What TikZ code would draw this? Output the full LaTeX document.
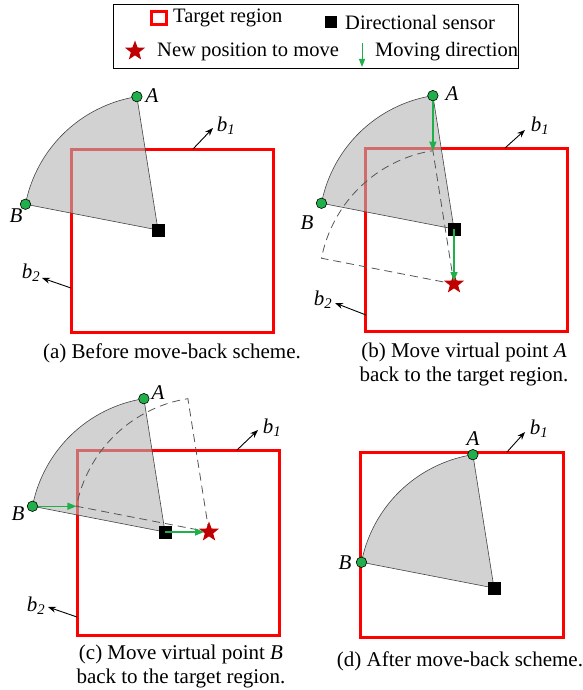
\documentclass[tikz,border=0pt]{standalone}
\usepackage{fontspec}
\setmainfont{Liberation Serif}
\usetikzlibrary{arrows.meta, shapes.geometric}
\definecolor{myred}{HTML}{FF0000}
\definecolor{mygreen}{HTML}{1FAF4B}
\definecolor{mystar}{HTML}{C00000}
\definecolor{mygray}{HTML}{B4B4B4}
\definecolor{myline}{HTML}{444444}
\definecolor{mydash}{HTML}{555555}
\tikzset{
target/.style={
draw=myred,
line width=3pt
},
sector/.style={
draw=myline,
line width=0.6pt,
fill=mygray,
fill opacity=0.6
},
ghost/.style={
draw=mydash,
line width=0.8pt,
dash pattern=on 8pt off 5pt
},
sensor/.style={
fill=black,
minimum size=13pt,
inner sep=0pt
},
vpoint/.style={
circle,
draw=black,
line width=0.6pt,
fill=mygreen,
minimum size=10.5pt,
inner sep=0pt
},
newpos/.style={
star,
star points=5,
star point ratio=2.4,
fill=mystar,
minimum size=21pt,
inner sep=0pt
},
move/.style={
-{Triangle[length=9pt,width=7pt]},
line width=1.4pt,
draw=mygreen
},
bdir/.style={
-{Stealth[length=8pt,width=6pt]},
line width=0.9pt
},
lbl/.style={
font=\fontsize{21}{24}\selectfont\itshape,
inner sep=0pt
},
caption/.style={
font=\fontsize{21}{24}\selectfont,
align=center,
inner sep=0pt
},
legtext/.style={
font=\fontsize{20.5}{24}\selectfont,
anchor=west,
inner sep=0pt
}
}

\begin{document}
\begin{tikzpicture}[x=1pt,y=-1pt]
\useasboundingbox (0,0) rectangle (582,690);

% legend
\draw[line width=0.8pt] (113,4) rectangle (518,68);
\node[draw=myred, line width=2.5pt, minimum width=15pt, minimum height=13pt, inner sep=0pt] (legT) at (159,18) {};
\node[legtext] (legTt) at (173,18) {Target region};
\node[sensor, minimum size=12pt] (legS) at (331,22) {};
\node[legtext] (legSt) at (345,22) {Directional sensor};
\node[newpos] (legN) at (135,51) {};
\node[legtext] (legNt) at (157,52) {New position to move};
\coordinate (legM1) at (362,43);
\coordinate (legM2) at (362,67);
\draw[move, line width=1pt, -{Triangle[length=8pt,width=6pt]}] (legM1) -- (legM2);
\node[legtext] (legMt) at (375,52) {Moving direction};

% (a)
\draw[target] (71,149) rectangle (273,332);
\coordinate (aS) at (158,230);
\path (aS) ++(-99:135) coordinate (aA);
\path (aS) ++(-169:135) coordinate (aB);
\draw[sector] (aS) -- (aA) arc[start angle=-99, end angle=-169, radius=135] -- cycle;
\node[sensor] (aSen) at (aS) {};
\node[vpoint] (aPA) at (aA) {};
\node[vpoint] (aPB) at (aB) {};
\node[lbl] (aLA) at (152,96) {A};
\node[lbl] (aLB) at (16,216) {B};
\coordinate (ab1s) at (193,149);
\coordinate (ab1e) at (213,128);
\draw[bdir] (ab1s) -- (ab1e);
\node[lbl] (ab1) at (226,126) {b\textsubscript{1}};
\coordinate (ab2s) at (71,288);
\coordinate (ab2e) at (42,278);
\draw[bdir] (ab2s) -- (ab2e);
\node[lbl] (ab2) at (31,273) {b\textsubscript{2}};
\node[caption] (capa) at (172,353) {(a) Before move-back scheme.};

% (b)
\draw[target] (365,148) rectangle (567,331);
\coordinate (bS) at (454,229);
\path (bS) ++(-99:135) coordinate (bA);
\path (bS) ++(-169:135) coordinate (bB);
\draw[sector] (bS) -- (bA) arc[start angle=-99, end angle=-169, radius=135] -- cycle;
\coordinate (bS2) at (454,284);
\path (bS2) ++(-99:135) coordinate (bA2);
\path (bS2) ++(-169:135) coordinate (bB2);
\draw[ghost] (bS2) -- (bA2) arc[start angle=-99, end angle=-169, radius=135] -- cycle;
\node[sensor] (bSen) at (bS) {};
\node[newpos] (bNew) at (bS2) {};
\node[vpoint] (bPA) at (bA) {};
\node[vpoint] (bPB) at (bB) {};
\draw[move] (bPA) -- (bA2);
\draw[move, shorten >=3pt] (bSen.center) -- (bNew.center);
\node[lbl] (bLA) at (452,94) {A};
\node[lbl] (bLB) at (307,223) {B};
\coordinate (bb1s) at (505,148);
\coordinate (bb1e) at (525,130);
\draw[bdir] (bb1s) -- (bb1e);
\node[lbl] (bb1) at (540,126) {b\textsubscript{1}};
\coordinate (bb2s) at (366,315);
\coordinate (bb2e) at (335,303);
\draw[bdir] (bb2s) -- (bb2e);
\node[lbl] (bb2) at (323,300) {b\textsubscript{2}};
\node[caption] (capb) at (464,364) {(b) Move virtual point \textit{A}\\back to the target region.};

% (c)
\draw[target] (77,450) rectangle (279,635);
\coordinate (cS) at (165,532);
\path (cS) ++(-99:135) coordinate (cA);
\path (cS) ++(-169:135) coordinate (cB);
\draw[sector] (cS) -- (cA) arc[start angle=-99, end angle=-169, radius=135] -- cycle;
\coordinate (cS2) at (209,532);
\path (cS2) ++(-99:135) coordinate (cA2);
\path (cS2) ++(-169:135) coordinate (cB2);
\draw[ghost] (cS2) -- (cA2) arc[start angle=-99, end angle=-169, radius=135] -- cycle;
\node[sensor] (cSen) at (cS) {};
\node[newpos] (cNew) at (cS2) {};
\node[vpoint] (cPA) at (cA) {};
\node[vpoint] (cPB) at (cB) {};
\draw[move] (cPB) -- (cB2);
\draw[move, shorten >=5pt] (cSen.center) -- (cNew.center);
\node[lbl] (cLA) at (158,393) {A};
\node[lbl] (cLB) at (18,514) {B};
\coordinate (cb1s) at (237,450);
\coordinate (cb1e) at (258,430);
\draw[bdir] (cb1s) -- (cb1e);
\node[lbl] (cb1) at (272,428) {b\textsubscript{1}};
\coordinate (cb2s) at (77,617);
\coordinate (cb2e) at (48,607);
\draw[bdir] (cb2s) -- (cb2e);
\node[lbl] (cb2) at (36,606) {b\textsubscript{2}};
\node[caption] (capc) at (181,666) {(c) Move virtual point \textit{B}\\back to the target region.};

% (d)
\draw[target] (360,452) rectangle (563,637);
\coordinate (dS) at (494,588);
\path (dS) ++(-99:135) coordinate (dA);
\path (dS) ++(-169:135) coordinate (dB);
\draw[sector] (dS) -- (dA) arc[start angle=-99, end angle=-169, radius=135] -- cycle;
\node[sensor] (dSen) at (dS) {};
\node[vpoint] (dPA) at (dA) {};
\node[vpoint] (dPB) at (dB) {};
\node[lbl] (dLA) at (473,439) {A};
\node[lbl] (dLB) at (345,563) {B};
\coordinate (db1s) at (507,452);
\coordinate (db1e) at (525,432);
\draw[bdir] (db1s) -- (db1e);
\node[lbl] (db1) at (539,429) {b\textsubscript{1}};
\node[caption] (capd) at (460,661) {(d) After move-back scheme.};

\end{tikzpicture}
\end{document}
